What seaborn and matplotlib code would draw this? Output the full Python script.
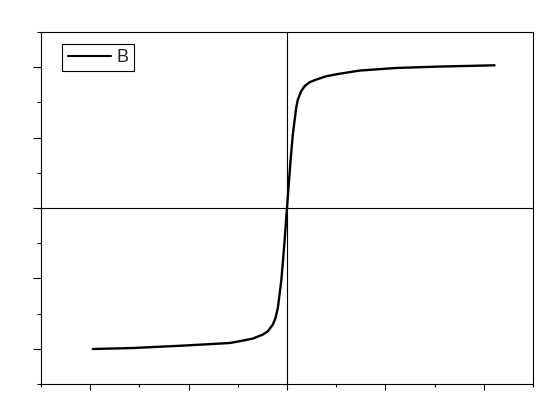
import numpy as np
import pandas as pd
import matplotlib
matplotlib.use("Agg")
import matplotlib.pyplot as plt
import seaborn as sns
from matplotlib.ticker import MultipleLocator

# curve B (arbitrary units, axes have no labels)
field = [-1.974, -1.570, -1.062, -0.584, -0.483, -0.348, -0.246, -0.195,
         -0.144, -0.117, -0.093, -0.076, -0.058, -0.040, -0.020, 0.000,
         0.020, 0.040, 0.058, 0.076, 0.093, 0.110, 0.144, 0.178,
         0.229, 0.297, 0.398, 0.516, 0.737, 1.110, 1.550, 2.109]
moment = [-2.003, -1.989, -1.955, -1.918, -1.893, -1.855, -1.798, -1.751,
          -1.656, -1.563, -1.420, -1.230, -1.030, -0.740, -0.380, 0.000,
          0.380, 0.740, 1.030, 1.232, 1.420, 1.540, 1.658, 1.729,
          1.786, 1.824, 1.871, 1.903, 1.952, 1.989, 2.009, 2.027]

df = pd.DataFrame({"x": field, "y": moment, "series": "B"})

sns.set_style("white")
plt.rcParams["font.family"] = ["Liberation Sans", "DejaVu Sans"]

fig = plt.figure(figsize=(5.6, 4.0), dpi=100)
ax = fig.add_axes([41 / 560, 1 - 384 / 400, 492 / 560, 352 / 400])

ax.axhline(0, color="black", lw=0.8, zorder=1)
ax.axvline(0, color="black", lw=0.8, zorder=1)

sns.lineplot(data=df, x="x", y="y", hue="series", palette=["black"],
             estimator=None, sort=False, lw=1.7, ax=ax, zorder=3,
             solid_joinstyle="round")

ax.set_xlim(-2.5, 2.5)
ax.set_ylim(-2.5, 2.5)
ax.xaxis.set_major_locator(MultipleLocator(1))
ax.xaxis.set_minor_locator(MultipleLocator(0.5))
ax.yaxis.set_major_locator(MultipleLocator(1))
ax.yaxis.set_minor_locator(MultipleLocator(0.5))
ax.set_xticklabels([])
ax.set_yticklabels([])
ax.set_xlabel("")
ax.set_ylabel("")
ax.tick_params(axis="x", which="major", direction="out", length=4.5, width=0.8,
               bottom=True, color="black")
ax.tick_params(axis="x", which="minor", direction="out", length=2.3, width=0.8,
               bottom=True, color="black")
ax.tick_params(axis="y", which="major", direction="out", length=5.5, width=0.8,
               left=True, color="black")
ax.tick_params(axis="y", which="minor", direction="out", length=2.8, width=0.8,
               left=True, color="black")

for side in ["left", "bottom", "right", "top"]:
    ax.spines[side].set_visible(True)
    ax.spines[side].set_color("black")
    ax.spines[side].set_linewidth(0.8)

leg = ax.legend(loc="upper left", bbox_to_anchor=(0.043, 0.967), borderaxespad=0,
                fontsize=13, frameon=True, fancybox=False, framealpha=1,
                edgecolor="black", borderpad=0.3, handlelength=2.4,
                handletextpad=0.3)
leg.get_frame().set_linewidth(0.8)
for h in leg.get_lines():
    h.set_linewidth(1.5)

fig.savefig("out.png", dpi=100)
